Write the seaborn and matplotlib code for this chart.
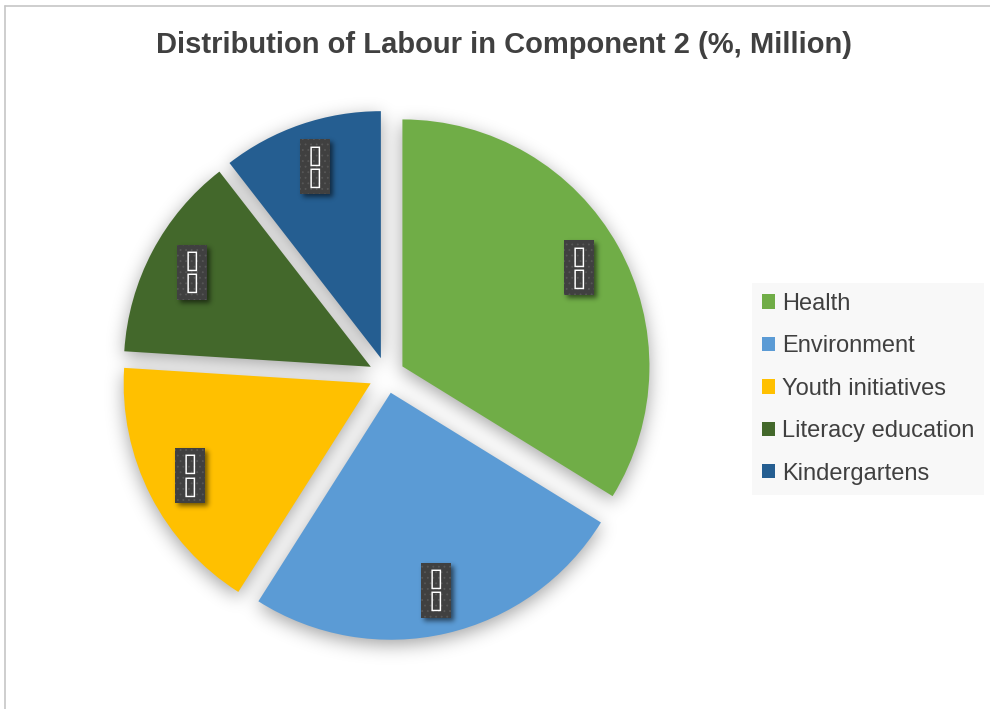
import numpy as np
import matplotlib
matplotlib.use("Agg")
import matplotlib.pyplot as plt
from matplotlib.lines import Line2D
from matplotlib.patches import Rectangle
import seaborn as sns

# ---- data -------------------------------------------------------------
categories = ["Health", "Environment", "Youth initiatives",
              "Literacy education", "Kindergartens"]
shares = [33.8, 25.2, 17.0, 13.5, 10.5]
slice_labels = ["\u25af\n\u25af"] * len(categories)
colors = ["#70AD47", "#5B9BD5", "#FFC000", "#43682B", "#255E91"]
title = "Distribution of Labour in Component 2 (%, Million)"

# ---- style ------------------------------------------------------------
sns.set_theme(style="white")
plt.rcParams["font.family"] = ["Liberation Sans", "DejaVu Sans"]
plt.rcParams["hatch.linewidth"] = 0.6
text_color = "#404040"

W, H = 990, 709
fig = plt.figure(figsize=(W / 100, H / 100), dpi=100)
fig.patch.set_facecolor("white")
ax = fig.add_axes([0, 0, 1, 1])

cx, cy = 386.7, H - 375.2
R = 247
gap = 18
box_w, box_h = 30, 55

wedges, _ = ax.pie(
    shares, colors=colors, startangle=90, counterclock=False,
    radius=R, center=(cx, cy), explode=[gap] * len(shares),
    wedgeprops=dict(linewidth=0, zorder=3),
)
ax.set_xlim(0, W)
ax.set_ylim(0, H)
ax.set_aspect("equal")
ax.axis("off")

yy, xx = np.mgrid[0:H, 0:W]
px = xx + 0.5
py = H - yy - 0.5


def gblur(a, sigma):
    k = int(3 * sigma)
    xs = np.arange(-k, k + 1)
    ker = np.exp(-xs ** 2 / (2 * sigma ** 2))
    ker /= ker.sum()
    a = np.apply_along_axis(lambda m: np.convolve(m, ker, mode="same"), 0, a)
    a = np.apply_along_axis(lambda m: np.convolve(m, ker, mode="same"), 1, a)
    return a


def shadow_layer(mask, sigma, dx, dy, strength, z):
    soft = gblur(mask, sigma)
    soft = np.roll(np.roll(soft, dy, axis=0), dx, axis=1)
    img = np.zeros((H, W, 4))
    img[..., 3] = np.clip(strength * soft, 0, 1)
    ax.imshow(img, extent=(0, W, 0, H), origin="upper", zorder=z,
              interpolation="bilinear")


# soft drop shadow under the slices
mask = np.zeros((H, W))
for w in wedges:
    wx, wy = w.center
    dx, dy = px - wx, py - wy
    rr = np.hypot(dx, dy)
    ang = np.degrees(np.arctan2(dy, dx))
    rel = (ang - w.theta1) % 360
    mask[(rr <= w.r) & (rel <= (w.theta2 - w.theta1))] = 1.0
shadow_layer(mask, 9, 0, 5, 0.36, 1)

# dark value boxes inside each slice
bmask = np.zeros((H, W))
for w, lab in zip(wedges, slice_labels):
    mid = np.radians((w.theta1 + w.theta2) / 2)
    lx = w.center[0] + 0.82 * R * np.cos(mid)
    ly = w.center[1] + 0.82 * R * np.sin(mid)
    ax.add_patch(Rectangle((lx - box_w / 2, ly - box_h / 2), box_w, box_h,
                           facecolor="#404040", edgecolor="#575757",
                           linewidth=0, hatch="...", zorder=6))
    ax.text(lx, ly, lab, ha="center", va="center", color="white",
            fontsize=19, linespacing=0.82, zorder=7,
            family=["DejaVu Sans"])
    c0, c1 = int(round(lx - box_w / 2)), int(round(lx + box_w / 2))
    r0, r1 = int(round(H - ly - box_h / 2)), int(round(H - ly + box_h / 2))
    bmask[r0:r1, c0:c1] = 1.0

# blurred shadow behind the value boxes
shadow_layer(bmask, 2.5, 3, 3, 0.55, 5)

# legend
leg = ax.legend(
    wedges, categories, loc="upper left",
    bbox_to_anchor=(752 / W, 1 - 283 / H), bbox_transform=fig.transFigure,
    frameon=True, facecolor="#f7f7f7", edgecolor="none", fancybox=False,
    fontsize=17, labelcolor=text_color, handlelength=0.55,
    handleheight=0.55, handletextpad=0.3, labelspacing=0.865,
    borderpad=0.42, borderaxespad=0,
)
leg.get_frame().set_linewidth(0)

fig.text(503.5 / W, 1 - 53 / H, title, ha="center", va="baseline",
         fontsize=21, fontweight="bold", color=text_color)

# chart-area border
fig.add_artist(Line2D([5 / W, 1], [1 - 6 / H, 1 - 6 / H],
                      transform=fig.transFigure, color="#c6c6c6", lw=1.2))
fig.add_artist(Line2D([5 / W, 5 / W], [0, 1 - 6 / H],
                      transform=fig.transFigure, color="#c6c6c6", lw=1.2))

fig.savefig("out.png", dpi=100, facecolor="white")
